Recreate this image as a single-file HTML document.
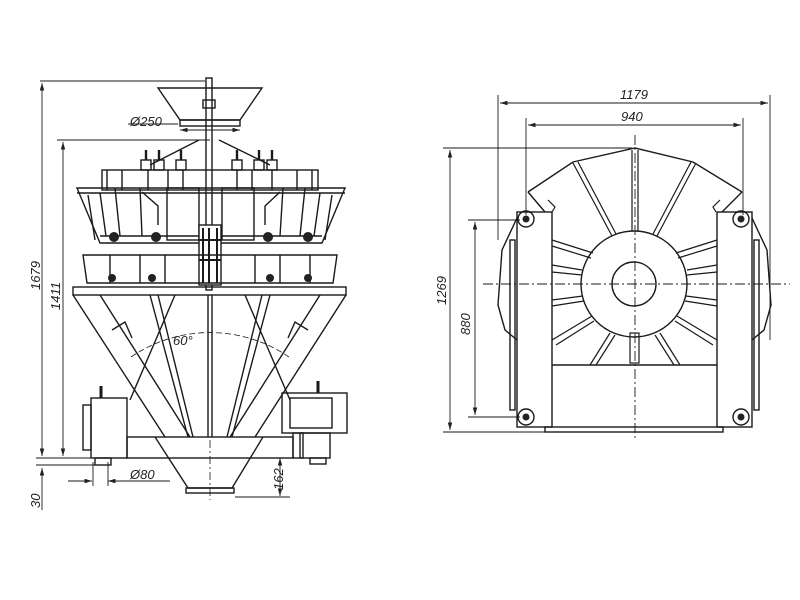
<!DOCTYPE html>
<html><head><style>html,body{margin:0;padding:0;background:#fff}svg{display:block}</style></head>
<body>
<svg width="800" height="600" viewBox="0 0 800 600" xmlns="http://www.w3.org/2000/svg" font-family="Liberation Sans, sans-serif" font-style="italic">
<defs>
<marker id="a" viewBox="0 0 10 6" refX="10" refY="3" markerWidth="9" markerHeight="5" orient="auto-start-reverse"><path d="M0,0L10,3L0,6z" fill="#222"/></marker>
</defs>
<g stroke="#1a1a1a" fill="none" stroke-width="1.4">
<!-- LEFT VIEW dimensions -->
<g stroke-width="0.9">
<line x1="40" y1="81" x2="205" y2="81"/>
<line x1="42" y1="83" x2="42" y2="456" marker-start="url(#a)" marker-end="url(#a)"/>
<line x1="57" y1="140" x2="210" y2="140"/>
<line x1="63" y1="142" x2="63" y2="456" marker-start="url(#a)" marker-end="url(#a)"/>
<line x1="36" y1="458" x2="130" y2="458"/>
<line x1="36" y1="465" x2="95" y2="465"/>
<line x1="42" y1="468" x2="42" y2="510" marker-start="url(#a)"/>
<line x1="128" y1="124" x2="178" y2="124"/>
<line x1="180" y1="130" x2="240" y2="130" marker-start="url(#a)" marker-end="url(#a)"/>
<line x1="68" y1="481" x2="92" y2="481" marker-end="url(#a)"/>
<line x1="108" y1="481" x2="170" y2="481" marker-start="url(#a)"/>
<line x1="93" y1="462" x2="93" y2="486"/>
<line x1="108" y1="462" x2="108" y2="486"/>
<line x1="280" y1="458" x2="280" y2="496" marker-start="url(#a)" marker-end="url(#a)"/>
<line x1="250" y1="458" x2="290" y2="458"/>
<line x1="235" y1="497" x2="290" y2="497"/>
</g>
<!-- top hopper -->
<path d="M158,88 L262,88 L240,120 L180,120 Z"/>
<rect x="180" y="120" width="60" height="6"/>
<rect x="206" y="78" width="6" height="212"/>
<rect x="203" y="100" width="12" height="8"/>
<path d="M199,140 L150,165 M219,140 L270,165"/>
<!-- upper motor band -->
<rect x="102" y="170" width="216" height="20"/>
<path d="M107,170v20M122,170v20M148,170v20M168,170v20M183,170v20M237,170v20M252,170v20M272,170v20M297,170v20M312,170v20"/>
<g>
<rect x="141" y="160" width="10" height="10"/><rect x="154" y="160" width="10" height="10"/><rect x="176" y="160" width="10" height="10"/>
<rect x="232" y="160" width="10" height="10"/><rect x="254" y="160" width="10" height="10"/><rect x="267" y="160" width="10" height="10"/>
<path d="M146,160v-10M159,160v-10M181,160v-10M237,160v-10M259,160v-10M272,160v-10" stroke-width="2.4"/>
</g>
<!-- weigh bucket band -->
<path d="M77,188 L345,188 L322,243 L100,243 Z"/>
<path d="M77,193 L345,193"/>
<path d="M100,236 L322,236"/>
<g>
<rect x="167" y="188" width="32" height="52"/><rect x="222" y="188" width="32" height="52"/>
<path d="M115,188 L120,236 M140,188 L142,236 M283,188 L280,236 M305,188 L300,236 M88,195 L95,240 M332,195 L325,240"/>
<path d="M100,193 L106,236 M320,193 L314,236"/>
<path d="M142,192 L158,206 L158,225 M280,192 L265,206 L265,225"/>
</g>
<g fill="#222" stroke="none">
<circle cx="114" cy="237" r="5"/><circle cx="156" cy="237" r="5"/><circle cx="268" cy="237" r="5"/><circle cx="308" cy="237" r="5"/>
</g>
<rect x="199" y="225" width="22" height="60" fill="#fff"/>
<path d="M203,228v55M209,228v55M217,228v55M199,240h22M199,260h22" stroke-width="2"/>
<!-- lower band -->
<path d="M83,255 L337,255 L333,283 L87,283 Z"/>
<path d="M110,255v28M140,255v28M165,255v28M255,255v28M280,255v28M310,255v28"/>
<g fill="#222" stroke="none">
<circle cx="112" cy="278" r="4"/><circle cx="152" cy="278" r="4"/><circle cx="270" cy="278" r="4"/><circle cx="308" cy="278" r="4"/>
</g>
<!-- cone -->
<rect x="73" y="287" width="273" height="8"/>
<path d="M73,295 L165,437 M346,295 L255,437"/>
<path d="M100,295 L190,437 M320,295 L230,437"/>
<path d="M130,400 L175,295 M290,400 L245,295"/>
<path d="M150,295 L188,437 M158,295 L193,437 M270,295 L232,437 M262,295 L227,437"/>
<path d="M208,295 L208,437 M212,295 L212,437"/>
<path d="M112,330 L125,322 L132,338 M308,330 L295,322 L288,338"/>
<path d="M131,357 A140,140 0 0 1 289,357" stroke-dasharray="6,3" stroke-width="0.8"/>
<path d="M210,440 V500" stroke-dasharray="8,3,2,3" stroke-width="0.8"/>
<!-- base -->
<rect x="127" y="437" width="166" height="21"/>
<path d="M155,437 L188,488 L232,488 L263,437"/>
<rect x="186" y="488" width="48" height="5"/>
<!-- left box -->
<rect x="91" y="398" width="36" height="60"/>
<rect x="83" y="405" width="8" height="45"/>
<rect x="95" y="458" width="16" height="7"/>
<path d="M101,398v-12" stroke-width="3"/>
<!-- right box -->
<rect x="282" y="393" width="65" height="40"/>
<rect x="290" y="398" width="42" height="30"/>
<rect x="293" y="433" width="10" height="25"/>
<rect x="300" y="433" width="30" height="25"/>
<rect x="310" y="458" width="16" height="6"/>
<path d="M318,393v-12" stroke-width="3"/>

<!-- RIGHT VIEW dims -->
<g stroke-width="0.9">
<line x1="498" y1="95" x2="498" y2="240"/>
<line x1="770" y1="95" x2="770" y2="340"/>
<line x1="500" y1="103" x2="768" y2="103" marker-start="url(#a)" marker-end="url(#a)"/>
<line x1="526" y1="118" x2="526" y2="215"/>
<line x1="743" y1="118" x2="743" y2="215"/>
<line x1="528" y1="125" x2="741" y2="125" marker-start="url(#a)" marker-end="url(#a)"/>
<line x1="443" y1="148" x2="632" y2="148"/>
<line x1="450" y1="150" x2="450" y2="430" marker-start="url(#a)" marker-end="url(#a)"/>
<line x1="443" y1="432" x2="545" y2="432"/>
<line x1="468" y1="220" x2="520" y2="220"/>
<line x1="475" y1="222" x2="475" y2="415" marker-start="url(#a)" marker-end="url(#a)"/>
<line x1="468" y1="417" x2="520" y2="417"/>
</g>
<path d="M483,284 H790 M635,135 V440" stroke-dasharray="10,3,2,3" stroke-width="0.9"/>
<!-- top octagon -->
<path d="M528,192 L573,162 L635,148 L693,162 L742,192"/>
<path d="M528,192 L545,212 M742,192 L722,212"/>
<!-- frame -->
<rect x="517" y="212" width="35" height="215"/>
<rect x="717" y="212" width="35" height="215"/>
<path d="M552,365 H717"/>
<rect x="545" y="427" width="178" height="5"/>
<!-- side flaps -->
<path d="M517,218 L502,250 L498,305 L505,330 L517,340"/>
<rect x="510" y="240" width="5" height="170"/>
<path d="M752,218 L767,250 L771,305 L764,330 L752,340"/>
<rect x="754" y="240" width="5" height="170"/>
<!-- corner circles -->
<circle cx="526" cy="219" r="8"/><circle cx="741" cy="219" r="8"/><circle cx="526" cy="417" r="8"/><circle cx="741" cy="417" r="8"/>
<g fill="#222" stroke="none"><circle cx="526" cy="219" r="3.5"/><circle cx="741" cy="219" r="3.5"/><circle cx="526" cy="417" r="3.5"/><circle cx="741" cy="417" r="3.5"/></g>
<circle cx="634" cy="284" r="53"/>
<circle cx="634" cy="284" r="22"/>
<!-- spokes -->
<g stroke-width="1.2">
<path d="M632,150 V231 M638,150 V231"/>
<path d="M573,163 L612,236 M578,162 L616,234"/>
<path d="M696,163 L657,236 M691,162 L653,234"/>
<path d="M552,240 L593,253 M552,246 L591,258"/>
<path d="M717,240 L676,253 M717,246 L678,258"/>
<path d="M552,265 L582,270 M552,272 L582,275"/>
<path d="M717,265 L687,270 M717,272 L687,275"/>
<path d="M552,300 L583,296 M552,306 L584,301"/>
<path d="M717,300 L686,296 M717,306 L685,301"/>
<path d="M552,340 L592,316 M556,345 L594,321"/>
<path d="M717,340 L677,316 M713,345 L675,321"/>
<path d="M590,365 L610,333 M596,365 L615,335"/>
<path d="M680,365 L660,333 M674,365 L655,335"/>
<rect x="630" y="333" width="9" height="30"/>
<path d="M548,200 L555,207 L552,212 M720,200 L713,207 L716,212"/>
</g>
</g>
<g fill="#222" font-size="13">
<text x="130" y="126">Ø250</text>
<text x="173" y="345">60°</text>
<text x="130" y="479">Ø80</text>
<text transform="translate(283,490) rotate(-90)">162</text>
<text transform="translate(40,508) rotate(-90)">30</text>
<text transform="translate(40,290) rotate(-90)">1679</text>
<text transform="translate(60,310) rotate(-90)">1411</text>
<text x="620" y="99">1179</text>
<text x="621" y="121">940</text>
<text transform="translate(446,305) rotate(-90)">1269</text>
<text transform="translate(470,335) rotate(-90)">880</text>
</g>
</svg>
</body></html>
